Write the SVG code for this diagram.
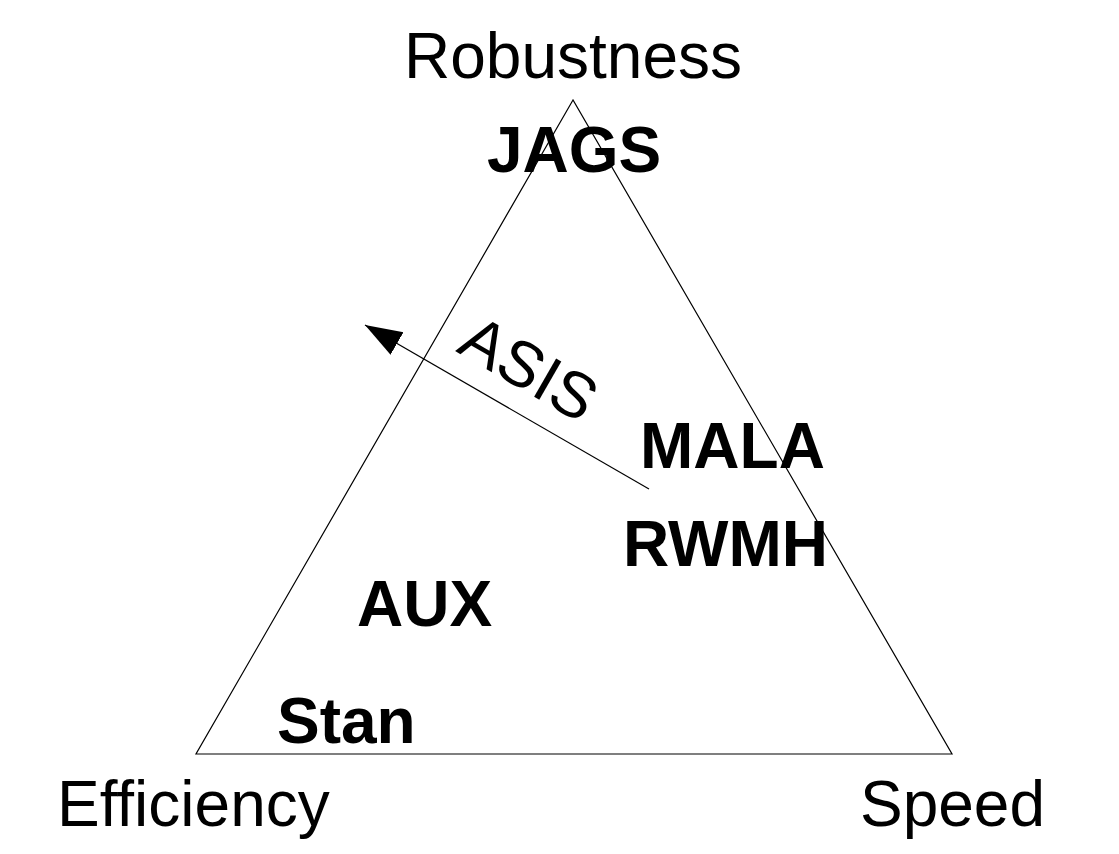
<svg xmlns="http://www.w3.org/2000/svg" width="1119" height="854" viewBox="0 0 1119 854">
<style>
.lbl{font-family:"Liberation Sans",Arial,sans-serif;font-size:64px;fill:#000}
.b{font-weight:bold}
.ln{fill:none;stroke:#000;stroke-width:1.2}
</style>
<defs>
<marker id="ah" markerUnits="userSpaceOnUse" markerWidth="40" markerHeight="28" refX="37" refY="13" orient="auto">
<polygon points="0,0 37,13 0,26" fill="#000"/>
</marker>
</defs>
<rect width="1119" height="854" fill="#fff"/>
<g id="triangle">
<polygon class="ln" points="573,100 196,754 952,754"/>
</g>
<g id="connectors">
<line class="ln" x1="649" y1="489" x2="365" y2="325" marker-end="url(#ah)"/>
<text class="lbl" transform="translate(455,351) rotate(30)">ASIS</text>
</g>
<g id="robustness"><text class="lbl" x="573" y="78" text-anchor="middle">Robustness</text></g>
<g id="efficiency"><text class="lbl" x="57" y="826">Efficiency</text></g>
<g id="speed"><text class="lbl" x="1045" y="826" text-anchor="end">Speed</text></g>
<g id="jags"><text class="lbl b" x="487" y="172">JAGS</text></g>
<g id="mala"><text class="lbl b" x="640" y="468">MALA</text></g>
<g id="rwmh"><text class="lbl b" x="623" y="566">RWMH</text></g>
<g id="aux"><text class="lbl b" x="357" y="626">AUX</text></g>
<g id="stan"><text class="lbl b" x="277" y="743">Stan</text></g>
</svg>
